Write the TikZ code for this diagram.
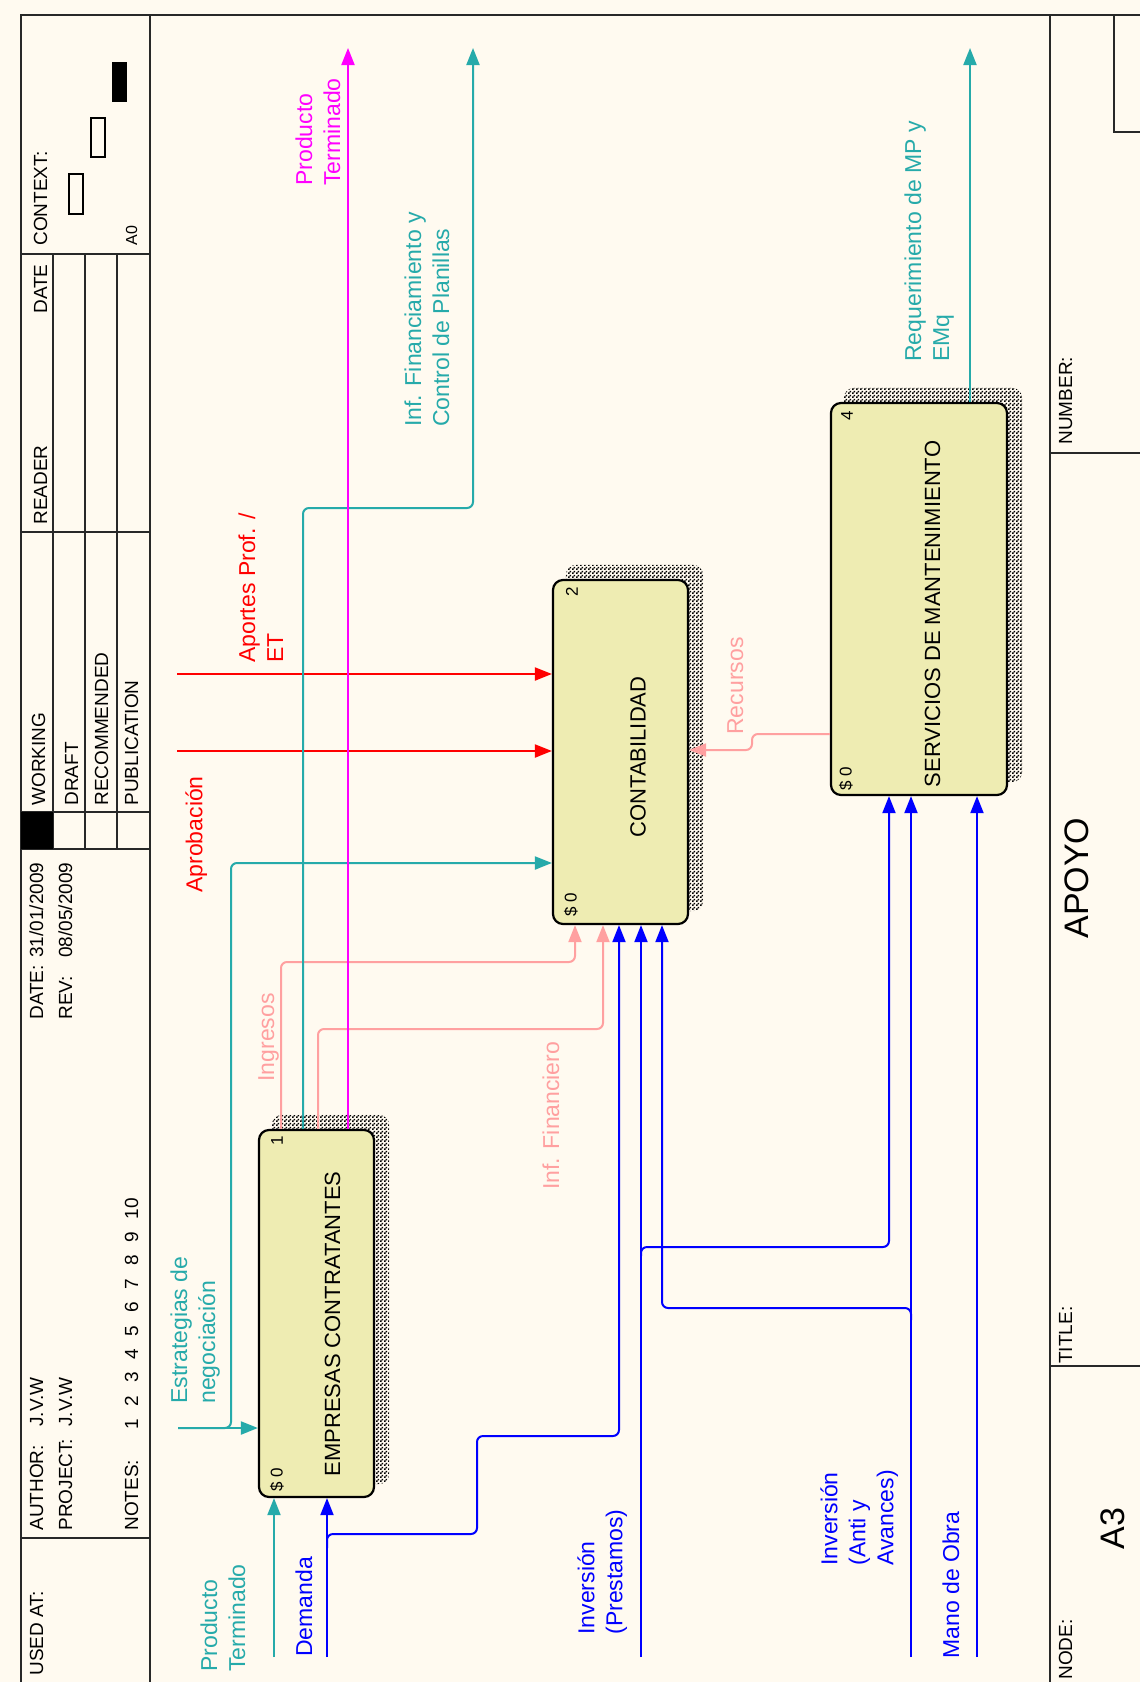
\documentclass[tikz,border=0pt]{standalone}
\usepackage{fontspec}
\setmainfont{Liberation Sans}
\usetikzlibrary{arrows.meta,patterns}

\definecolor{papercol}{RGB}{255,250,240}
\definecolor{boxfill}{RGB}{238,236,178}
\definecolor{idefteal}{RGB}{38,170,170}
\definecolor{idefpink}{RGB}{255,160,160}
\definecolor{idefred}{RGB}{255,0,0}
\definecolor{idefblue}{RGB}{0,0,255}
\definecolor{idefmag}{RGB}{255,0,255}
\definecolor{frameline}{RGB}{40,40,40}

% fine checkerboard used for the activity box shadows
\pgfdeclarepatternformonly{checkdots}{\pgfpointorigin}{\pgfqpoint{2pt}{2pt}}{\pgfqpoint{2pt}{2pt}}{%
  \pgfpathrectangle{\pgfpointorigin}{\pgfqpoint{1pt}{1pt}}%
  \pgfpathrectangle{\pgfqpoint{1pt}{1pt}}{\pgfqpoint{1pt}{1pt}}%
  \pgfusepath{fill}}

\pgfdeclarelayer{bglayer}
\pgfdeclarelayer{shadelayer}
\pgfsetlayers{bglayer,shadelayer,main}

\newcommand\notecell[1]{\makebox[11.7pt][l]{#1}}

\tikzset{
  fr/.style={draw=frameline, line width=1pt},
  proc/.style={draw=black, line width=1.1pt, fill=boxfill, rounded corners=5pt, inner sep=0pt},
  boxshade/.style={pattern=checkdots, pattern color=black, rounded corners=5pt},
  flow/.style={line width=1pt, rounded corners=3pt, -{Triangle[length=8.5pt,width=6.5pt]}},
  lbl/.style={rotate=90, anchor=north west, inner sep=0pt, align=left, font=\fontsize{11.5}{14}\selectfont},
  hdr/.style={rotate=90, anchor=base west, inner sep=0pt, font=\fontsize{9.5}{11}\selectfont},
  bigtitle/.style={hdr, font=\fontsize{17}{20}\selectfont},
  boxtext/.style={rotate=90, inner sep=0pt, font=\fontsize{11}{13}\selectfont},
  tag/.style={rotate=90, inner sep=0pt, font=\fontsize{8.5}{9}\selectfont},
}

\begin{document}
\begin{tikzpicture}[x=0.5pt,y=-0.5pt]
\useasboundingbox (0,0) rectangle (1140,1682);
\begin{pgfonlayer}{bglayer}
  \fill[papercol] (0,0) rectangle (1140,1682);
\end{pgfonlayer}

% ---------- form frame ----------
\draw[fr, line width=1.2pt] (21,1682) -- (21,15) -- (1140,15);
\draw[fr] (150,15) -- (150,1682);
\draw[fr, line width=1.2pt] (1050,15) -- (1050,1682);
\draw[fr] (1114,15) -- (1114,132) -- (1140,132);
\draw[fr] (1050,453) -- (1140,453);
\draw[fr] (1050,1366) -- (1140,1366);
\draw[fr] (21,254) -- (150,254);
\draw[fr] (21,532) -- (150,532);
\draw[fr] (21,812) -- (150,812);
\draw[fr] (21,849) -- (150,849);
\draw[fr] (53,254) -- (53,849);
\draw[fr] (85,254) -- (85,849);
\draw[fr] (117,254) -- (117,849);
\draw[fr] (21,1538) -- (150,1538);
\fill[black] (21,812) rectangle (53,849);

% context thumbnails
\draw[line width=0.8pt] (69,174) rectangle (83,214);
\draw[line width=0.8pt] (91,118) rectangle (105,157);
\fill[black] (112,62) rectangle (127,102);

% header texts
\node[hdr] (hctx) at (47,246) {CONTEXT:};
\node[hdr, font=\fontsize{8}{9}\selectfont] (ha0) at (137,246) {A0};
\node[hdr] (hdate) at (47,314) {DATE};
\node[hdr] (hreader) at (47,525) {READER};
\node[hdr] (hwork) at (45,806) {WORKING};
\node[hdr] (hdraft) at (78,806) {DRAFT};
\node[hdr] (hrec) at (108,806) {RECOMMENDED};
\node[hdr] (hpub) at (138,806) {PUBLICATION};
\node[hdr] (hdt) at (43,1020) {\makebox[31pt][l]{DATE:}31/01/2009};
\node[hdr] (hrev) at (72,1020) {\makebox[31pt][l]{REV:}08/05/2009};
\node[hdr] (hauth) at (43,1531) {\makebox[52pt][l]{AUTHOR:}J.V.W};
\node[hdr] (hproj) at (72,1531) {\makebox[52pt][l]{PROJECT:}J.V.W};
\node[hdr] (hnotes) at (138,1531) {\makebox[50.5pt][l]{NOTES:}\notecell{1}\notecell{2}\notecell{3}\notecell{4}\notecell{5}\notecell{6}\notecell{7}\notecell{8}\notecell{9}\notecell{10}};
\node[hdr] (hused) at (43,1676) {USED AT:};
\node[hdr] (hnum) at (1072,445) {NUMBER:};
\node[hdr] (htitle) at (1072,1364) {TITLE:};
\node[hdr] (hnode) at (1072,1680) {NODE:};
\node[bigtitle] (hapoyo) at (1088,939) {APOYO};
\node[bigtitle] (ha3) at (1124,1550) {A3};

% ---------- activity boxes ----------
\node[proc, minimum width=57.5pt, minimum height=183.5pt] (b1) at (316.5,1313.5) {};
\node[proc, minimum width=67.5pt, minimum height=172pt] (b2) at (620.5,752) {};
\node[proc, minimum width=88pt, minimum height=196pt] (b4) at (919,599) {};

\begin{pgfonlayer}{shadelayer}
  \foreach \b in {b1,b2,b4}
    \fill[boxshade] ([shift={(14,-14)}]\b.south west) rectangle ([shift={(14,-14)}]\b.north east);
\end{pgfonlayer}

\node[boxtext] (b1t) at (332.5,1324) {EMPRESAS CONTRATANTES};
\node[boxtext] (b2t) at (638,757) {CONTABILIDAD};
\node[boxtext] (b4t) at (932.5,614) {SERVICIOS DE MANTENIMIENTO};
\node[tag] (b1n) at (277,1141) {1};
\node[tag] (b1c) at (277,1480) {\$ 0};
\node[tag] (b2n) at (572,592) {2};
\node[tag] (b2c) at (571,905) {\$ 0};
\node[tag] (b4n) at (847,416) {4};
\node[tag] (b4c) at (846,779) {\$ 0};

% ---------- arrow end points and bends ----------
\coordinate (iPT) at (274,1657);
\coordinate (iDem) at (327,1657);
\coordinate (jDem) at (327,1548);
\coordinate (kDem) at (619,1436);
\coordinate (iInv1) at (641,1657);
\coordinate (jInv1) at (641,1256);
\coordinate (kInv1) at (889,1247);
\coordinate (iInv2) at (911,1657);
\coordinate (jInv2) at (911,1320);
\coordinate (kInv2) at (662,1308);
\coordinate (iMO) at (977,1657);
\coordinate (iEst) at (178,1428);
\coordinate (kEst) at (231,863);
\coordinate (iApo) at (177,674);
\coordinate (iApr) at (177,751);
\coordinate (kIng1) at (281,962);
\coordinate (kIng2) at (575,962);
\coordinate (kInf1) at (318,1029);
\coordinate (kInf2) at (603,1029);
\coordinate (kFin1) at (303,508);
\coordinate (kFin2) at (473,508);
\coordinate (oFin) at (473,48);
\coordinate (oPT) at (348,48);
\coordinate (oReq) at (970,48);
\coordinate (kRec1) at (752,734);
\coordinate (kRec2) at (752,750);

% ---------- connectors ----------
\draw[flow, idefteal] (iPT) -- (iPT |- b1.south);
\draw[flow, idefblue] (iDem) -- (iDem |- b1.south);
\draw[flow, idefblue] (jDem) -- (327,1534) -- (477,1534) -- (477,1436) -- (kDem) -- (kDem |- b2.south);
\draw[flow, idefblue] (iInv1) -- (iInv1 |- b2.south);
\draw[flow, idefblue] (jInv1) -- (641,1247) -- (kInv1) -- (kInv1 |- b4.south);
\draw[flow, idefblue] (iInv2) -- (iInv2 |- b4.south);
\draw[flow, idefblue] (jInv2) -- (911,1308) -- (kInv2) -- (kInv2 |- b2.south);
\draw[flow, idefblue] (iMO) -- (iMO |- b4.south);
\draw[flow, idefteal] (iEst) -- (iEst -| b1.west);
\draw[flow, idefteal] (iEst) -- (231,1428) -- (kEst) -- (kEst -| b2.west);
\draw[flow, idefred] (iApo) -- (iApo -| b2.west);
\draw[flow, idefred] (iApr) -- (iApr -| b2.west);
\draw[flow, idefpink] (kIng1 |- b1.north) -- (kIng1) -- (kIng2) -- (kIng2 |- b2.south);
\draw[flow, idefpink] (kInf1 |- b1.north) -- (kInf1) -- (kInf2) -- (kInf2 |- b2.south);
\draw[flow, idefteal] (kFin1 |- b1.north) -- (kFin1) -- (kFin2) -- (oFin);
\draw[flow, idefmag] (oPT |- b1.north) -- (oPT);
\draw[flow, idefteal] (oReq |- b4.north) -- (oReq);
\draw[flow, idefpink] (kRec1 -| b4.west) -- (kRec1) -- (kRec2) -- (kRec2 -| b2.east);

% ---------- arrow labels ----------
\node[lbl, text=idefteal] (lpt) at (200,1672) {Producto\\Terminado};
\node[lbl, text=idefblue] (ldem) at (295,1657) {Demanda};
\node[lbl, text=idefteal] (lest) at (170,1404) {Estrategias de\\negociación};
\node[lbl, text=idefblue] (linv1) at (577,1635) {Inversión\\(Prestamos)};
\node[lbl, text=idefblue] (linv2) at (820,1566) {Inversión\\(Anti y\\Avances)};
\node[lbl, text=idefblue] (lmo) at (942,1659) {Mano de Obra};
\node[lbl, text=idefpink] (ling) at (258,1082) {Ingresos};
\node[lbl, text=idefpink] (linf) at (542,1190) {Inf. Financiero};
\node[lbl, text=idefred] (lapr) at (185,893) {Aprobación};
\node[lbl, text=idefred] (lapo) at (238,663) {Aportes Prof. /\\ET};
\node[lbl, text=idefpink] (lrec) at (727,735) {Recursos};
\node[lbl, text=idefteal] (lfin) at (404,427) {Inf. Financiamiento y\\Control de Planillas};
\node[lbl, text=idefmag] (lpt2) at (295,186) {Producto\\Terminado};
\node[lbl, text=idefteal] (lreq) at (904,362) {Requerimiento de MP y\\EMq};
\end{tikzpicture}
\end{document}
